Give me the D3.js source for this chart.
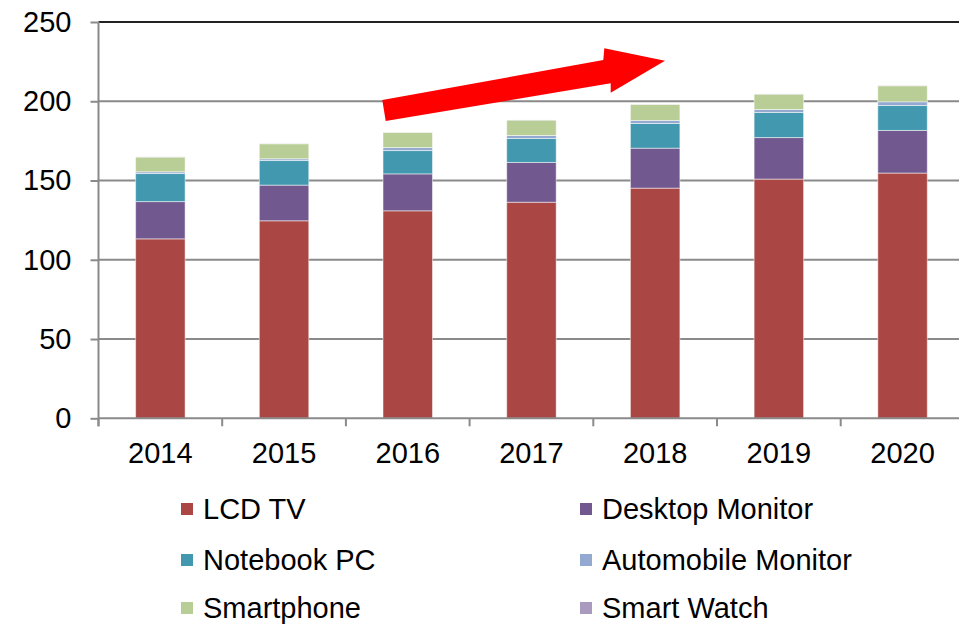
<!DOCTYPE html>
<html>
<head>
<meta charset="utf-8">
<script src="https://cdn.jsdelivr.net/npm/d3@7"></script>
<style>
  html, body { margin: 0; padding: 0; background: #ffffff; }
  svg { display: block; font-family: "Liberation Sans", Arial, sans-serif; }
</style>
</head>
<body>
<svg id="chart" width="959" height="626"></svg>
<script>
const years = ["2014", "2015", "2016", "2017", "2018", "2019", "2020"];
const seriesNames = ["LCD TV", "Desktop Monitor", "Notebook PC", "Automobile Monitor", "Smartphone", "Smart Watch"];
const lcdTV       = [113.2, 124.6, 130.9, 136.3, 145.2, 150.9, 154.7];
const desktop     = [23.5, 22.5, 23.3, 25.1, 25.2, 26.2, 26.9];
const notebook    = [17.7, 15.5, 14.7, 15.1, 15.6, 15.8, 15.7];
const automobile  = [1.1, 1.1, 1.9, 1.9, 1.9, 1.9, 2.4];
const smartphone  = [9.3, 9.5, 9.5, 9.7, 10.1, 9.7, 10.1];
const smartWatch  = [0.1, 0.1, 0.1, 0.1, 0.1, 0.1, 0.1];
const yTicks = [0, 50, 100, 150, 200, 250];
const colors = ["#AA4643", "#71588F", "#4198AF", "#93A9CF", "#B9CD96", "#A99BBD"];

const seriesValues = [lcdTV, desktop, notebook, automobile, smartphone, smartWatch];
const table = years.map((yr, i) => {
  const row = { year: yr };
  seriesNames.forEach((s, k) => row[s] = seriesValues[k][i]);
  return row;
});

const svg = d3.select("#chart");
const padL = 98.5, padB = 418.3, padT = 22, padR = 964.4;
const fs = 29;

const x = d3.scaleBand().domain(years).range([padL, padR]).paddingInner(0.6).paddingOuter(0.3);
const y = d3.scaleLinear().domain([0, 250]).range([padB, padT]);

// gridlines
svg.append("g").selectAll("line").data(yTicks.filter(t => t > 0)).join("line")
  .attr("x1", padL).attr("x2", 959)
  .attr("y1", d => y(d)).attr("y2", d => y(d))
  .attr("stroke", d => d === 250 ? "#222" : "#8a8a8a")
  .attr("stroke-width", 2);

// stacked bars
const stack = d3.stack().keys(seriesNames)(table);
svg.append("g").selectAll("g").data(stack).join("g")
  .attr("fill", (d, i) => colors[i])
  .selectAll("rect").data(d => d).join("rect")
  .attr("x", d => x(d.data.year))
  .attr("width", x.bandwidth())
  .attr("y", d => y(d[1]))
  .attr("height", d => Math.max(0, y(d[0]) - y(d[1])))
  .attr("stroke", "#ffffff").attr("stroke-opacity", 0.5).attr("stroke-width", 1);

// y axis
const yAxis = svg.append("g").attr("transform", `translate(${padL},0)`)
  .call(d3.axisLeft(y).tickValues(yTicks).tickSize(8).tickPadding(19));
yAxis.select(".domain").attr("stroke", "#8a8a8a").attr("stroke-width", 2)
  .attr("d", `M0,${padT}V${padB + 8}`);
yAxis.selectAll(".tick line").attr("stroke", "#8a8a8a").attr("stroke-width", 2);
yAxis.selectAll(".tick text").attr("font-size", fs).attr("fill", "#000")
  .attr("font-family", "Liberation Sans, Arial, sans-serif");

// x axis
const xAxis = svg.append("g").attr("transform", `translate(0,${padB})`)
  .call(d3.axisBottom(x).tickSize(0).tickPadding(24));
xAxis.select(".domain").attr("stroke", "#8a8a8a").attr("stroke-width", 2)
  .attr("d", `M${padL},0H959`);
xAxis.selectAll(".tick text").attr("font-size", fs).attr("fill", "#000")
  .attr("font-family", "Liberation Sans, Arial, sans-serif");
const gap = x.step() - x.bandwidth();
const boundaries = years.map(yr => x(yr) - gap / 2).concat([x(years[years.length - 1]) + x.bandwidth() + gap / 2]);
xAxis.selectAll(".bt").data(boundaries).join("line").attr("class", "bt")
  .attr("x1", d => d).attr("x2", d => d).attr("y1", 0).attr("y2", 8)
  .attr("stroke", "#8a8a8a").attr("stroke-width", 2);

// arrow annotation
svg.append("path")
  .attr("d", "M382.3,100 L603.3,60 L604.3,48.3 L665,60.7 L610.7,92.7 L610.7,83.3 L385.7,121 Z")
  .attr("fill", "#ff0000");

// legend
const rowY = [509, 560, 608];
const legend = svg.append("g");
const legendItems = legend.selectAll("g").data(seriesNames).join("g")
  .attr("transform", (d, i) => `translate(${i % 2 === 0 ? 181 : 580},${rowY[Math.floor(i / 2)]})`);
legendItems.append("rect").attr("x", 0).attr("y", -6).attr("width", 12).attr("height", 12)
  .attr("fill", (d, i) => colors[i]);
legendItems.append("text").attr("x", 22).attr("y", 0).attr("dy", "0.35em")
  .attr("font-size", fs).attr("fill", "#000").text(d => d);
</script>
</body>
</html>
